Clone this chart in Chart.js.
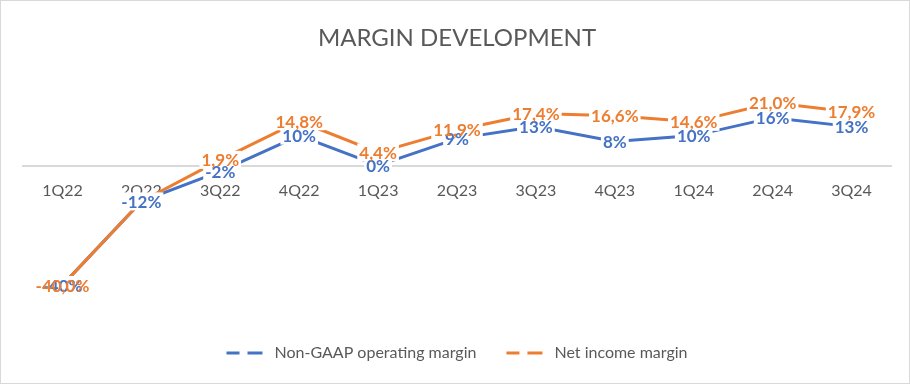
<!DOCTYPE html>
<html>
<head>
<meta charset="utf-8">
<script src="https://cdn.jsdelivr.net/npm/chart.js@4.4.1/dist/chart.umd.min.js"></script>
<style>
  html, body { margin: 0; padding: 0; background: #fff; }
  #wrap { width: 908px; height: 382px; border: 1px solid #d9d9d9; }
</style>
</head>
<body>
<div id="wrap"><canvas id="chart" width="908" height="382"></canvas></div>
<script>
var quarters = ['1Q22', '2Q22', '3Q22', '4Q22', '1Q23', '2Q23', '3Q23', '4Q23', '1Q24', '2Q24', '3Q24'];
var nonGaap = [-40, -12, -2, 10, 0, 9, 13, 8, 10, 16, 13];
var netIncome = [-40.0, -12.0, 1.9, 14.8, 4.4, 11.9, 17.4, 16.6, 14.6, 21.0, 17.9];
var nonGaapLabels = ['-40%', '-12%', '-2%', '10%', '0%', '9%', '13%', '8%', '10%', '16%', '13%'];
var netIncomeLabels = ['-40,0%', '', '1,9%', '14,8%', '4,4%', '11,9%', '17,4%', '16,6%', '14,6%', '21,0%', '17,9%'];

var blue = '#4472C4';
var orange = '#ED7D31';
var grey = '#595959';

// value labels centred on the points, with a white patch behind them
var pointLabels = {
	id: 'pointLabels',
	afterDatasetsDraw: function(chart) {
		var ctx = chart.ctx;
		var all = [];
		chart.data.datasets.forEach(function(ds, i) {
			var meta = chart.getDatasetMeta(i);
			meta.data.forEach(function(pt, j) {
				var txt = ds.valueLabels[j];
				if (!txt) return;
				all.push({x: pt.x, y: pt.y, t: txt, c: ds.borderColor});
			});
		});
		ctx.save();
		ctx.font = 'bold 17px Lato';
		ctx.textAlign = 'center';
		ctx.textBaseline = 'middle';
		all.forEach(function(l) {
			var w = ctx.measureText(l.t).width;
			ctx.fillStyle = '#fff';
			ctx.fillRect(l.x - w / 2 - 2, l.y - 9, w + 4, 18);
		});
		all.forEach(function(l) {
			ctx.fillStyle = l.c;
			ctx.fillText(l.t, l.x, l.y + 1);
		});
		ctx.restore();
	}
};

new Chart('chart', {
	type: 'line',
	data: {
		labels: quarters,
		datasets: [{
			label: 'Non-GAAP operating margin',
			data: nonGaap,
			valueLabels: nonGaapLabels,
			borderColor: blue,
			backgroundColor: blue,
			borderWidth: 3,
			pointRadius: 0,
			tension: 0,
			order: 2
		}, {
			label: 'Net income margin',
			data: netIncome,
			valueLabels: netIncomeLabels,
			borderColor: orange,
			backgroundColor: orange,
			borderWidth: 3,
			pointRadius: 0,
			tension: 0,
			order: 1
		}]
	},
	options: {
		responsive: false,
		animation: false,
		layout: { padding: { left: 22, right: 18, top: 0, bottom: 12 } },
		scales: {
			x: {
				type: 'category',
				position: { y: 0 },
				offset: true,
				grid: { display: false, drawTicks: false },
				border: { display: true, color: '#d9d9d9', width: 2 },
				ticks: { color: grey, font: { family: 'Lato', size: 16 }, padding: 16 }
			},
			y: {
				display: false,
				min: -50,
				max: 30
			}
		},
		plugins: {
			title: {
				display: true,
				text: 'MARGIN DEVELOPMENT',
				color: grey,
				font: { family: 'Lato', size: 24, weight: 'normal' },
				padding: { top: 23, bottom: 23 }
			},
			legend: {
				position: 'bottom',
				labels: {
					color: grey,
					font: { family: 'Lato', size: 16 },
					boxWidth: 40,
					boxHeight: 0,
					padding: 30,
					generateLabels: function(chart) {
						return chart.data.datasets.map(function(ds, i) {
							return {
								text: ds.label,
								fillStyle: ds.borderColor,
								strokeStyle: ds.borderColor,
								lineWidth: 3,
								lineDash: [13, 10],
								fontColor: grey,
								datasetIndex: i
							};
						});
					}
				}
			},
			tooltip: { enabled: false }
		}
	},
	plugins: [pointLabels]
});
</script>
</body>
</html>
